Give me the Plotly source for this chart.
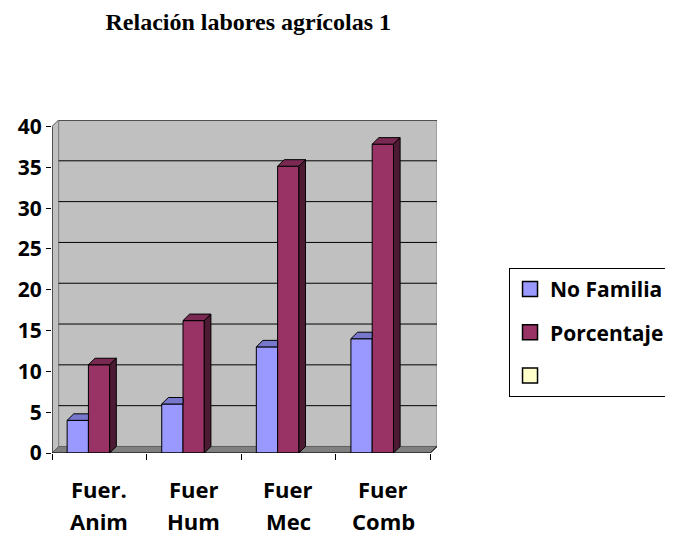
import plotly.graph_objs as go

categorias = ['Fuer.', 'Fuer', 'Fuer', 'Fuer']
categorias_2 = ['Anim', 'Hum', 'Mec', 'Comb']
no_familia = [4, 6, 13, 14]
porcentaje = [10.81, 16.22, 35.14, 37.84]
ticks_y = [0, 5, 10, 15, 20, 25, 30, 35, 40]

# offsets for the fake 3D depth (in data units)
dx = 0.07
dy = 0.8
ancho = 0.225
pos = list(range(len(categorias)))

fig = go.Figure()

# back wall, floor and gridlines
shapes = []
shapes.append(dict(type='rect', xref='x', yref='y', x0=-0.5 + dx, x1=3.5 + dx, y0=dy, y1=40 + dy,
                   fillcolor='#C0C0C0', line=dict(color='#808080', width=1), layer='below'))
shapes.append(dict(type='path', xref='x', yref='y', layer='below',
                   path=f'M -0.5 0 L -0.5 40 L {-0.5 + dx} {40 + dy} L {-0.5 + dx} {dy} Z',
                   fillcolor='#C0C0C0', line=dict(color='#808080', width=1)))
shapes.append(dict(type='path', xref='x', yref='y', layer='below',
                   path=f'M -0.5 0 L 3.5 0 L {3.5 + dx} {dy} L {-0.5 + dx} {dy} Z',
                   fillcolor='#808080', line=dict(color='#606060', width=1)))
for v in ticks_y[1:]:
    shapes.append(dict(type='line', xref='x', yref='y', x0=-0.5 + dx, x1=3.5 + dx, y0=v + dy, y1=v + dy,
                       line=dict(color='black', width=1), layer='below'))
# front axis lines
shapes.append(dict(type='line', xref='x', yref='y', x0=-0.5, x1=-0.5, y0=0, y1=40, line=dict(color='black', width=1)))
shapes.append(dict(type='line', xref='x', yref='y', x0=-0.5, x1=3.5, y0=0, y1=0, line=dict(color='black', width=1)))
shapes.append(dict(type='line', xref='x', yref='y', x0=3.5, x1=3.5 + dx, y0=0, y1=dy, line=dict(color='black', width=1)))
shapes.append(dict(type='line', xref='x', yref='y', x0=-0.5, x1=-0.5 + dx, y0=40, y1=40 + dy, line=dict(color='#808080', width=1)))

series = [
    ('No Familia', no_familia, -0.34, '#9999FF', '#7777CC', '#4D4D80'),
    ('Porcentaje', porcentaje, -0.115, '#993366', '#7A2952', '#4D1A33'),
]

for i, (nombre, valores, off, c_front, c_top, c_side) in enumerate(series):
    fig.add_trace(go.Bar(x=pos, y=valores, name=nombre, offset=off, width=ancho,
                         marker=dict(color=c_front, line=dict(color='black', width=1)),
                         showlegend=False))

# top and side faces
for i, (nombre, valores, off, c_front, c_top, c_side) in enumerate(series):
    for p, v in zip(pos, valores):
        x0 = p + off
        x1 = x0 + ancho
        if i == 0:
            xs = [x0, x1, x1, x0 + dx, x0]
        else:
            xs = [x0, x1, x1 + dx, x0 + dx, x0]
        ys = [v, v, v + dy, v + dy, v]
        fig.add_trace(go.Scatter(x=xs, y=ys, fill='toself', fillcolor=c_top, mode='lines',
                                 line=dict(color='black', width=1), showlegend=False, hoverinfo='skip'))
        if i == 1:
            fig.add_trace(go.Scatter(x=[x1, x1 + dx, x1 + dx, x1, x1], y=[0, dy, v + dy, v, 0], fill='toself',
                                     fillcolor=c_side, mode='lines', line=dict(color='black', width=1),
                                     showlegend=False, hoverinfo='skip'))

# legend entries (bigger squares than the bar icon), plus the empty third series
leyenda = [('No Familia', '#9999FF'), ('Porcentaje', '#993366'), (' ', '#FFFFCC')]
for nombre, color in leyenda:
    fig.add_trace(go.Scatter(x=[None], y=[None], mode='markers', name=nombre, legendgroup=nombre,
                             marker=dict(symbol='square', size=15, color=color, line=dict(color='black', width=1.5))))

# two-line category labels
anots = []
for p, a, b in zip(pos, categorias, categorias_2):
    anots.append(dict(x=p, y=0, xref='x', yref='y', text=f'<b>{a}</b>', showarrow=False,
                      yanchor='middle', yshift=-36, font=dict(family='Open Sans', size=22, color='black')))
    anots.append(dict(x=p, y=0, xref='x', yref='y', text=f'<b>{b}</b>', showarrow=False,
                      yanchor='middle', yshift=-68, font=dict(family='Open Sans', size=22, color='black')))

fig.update_layout(
    width=673, height=535,
    margin=dict(l=44, r=243, t=112, b=90),
    paper_bgcolor='white', plot_bgcolor='white',
    barmode='overlay',
    shapes=shapes,
    annotations=anots,
    title=dict(text='<b>Relación labores agrícolas 1</b>', x=0.357, xanchor='center', y=0.974, yanchor='middle',
               font=dict(family='Liberation Serif', size=24, color='black')),
    legend=dict(x=1.184, y=0.556, xanchor='left', yanchor='top', bgcolor='white',
                bordercolor='black', borderwidth=1, traceorder='grouped', tracegroupgap=13,
                itemsizing='trace', itemwidth=30,
                font=dict(family='Open Sans', size=21, color='black', weight='bold')),
    font=dict(family='Open Sans', color='black'),
)

fig.update_xaxes(range=[-0.5, 3.5 + dx], tickvals=pos, ticktext=['' for c in categorias],
                 ticks='', showgrid=False, zeroline=False, showline=False, automargin=False,
                 minor=dict(tickvals=[-0.5, 0.5, 1.5, 2.5, 3.5], ticks='outside', ticklen=6, tickcolor='black', showgrid=False))
fig.update_yaxes(range=[0, 40 + dy], tickvals=ticks_y, ticktext=[f'<b>{t}</b>' for t in ticks_y],
                 ticks='outside', ticklen=5, tickcolor='black', showgrid=False, zeroline=False, showline=False,
                 automargin=False, tickfont=dict(family='Open Sans', size=21, color='black'))

fig.write_html('out.html')
